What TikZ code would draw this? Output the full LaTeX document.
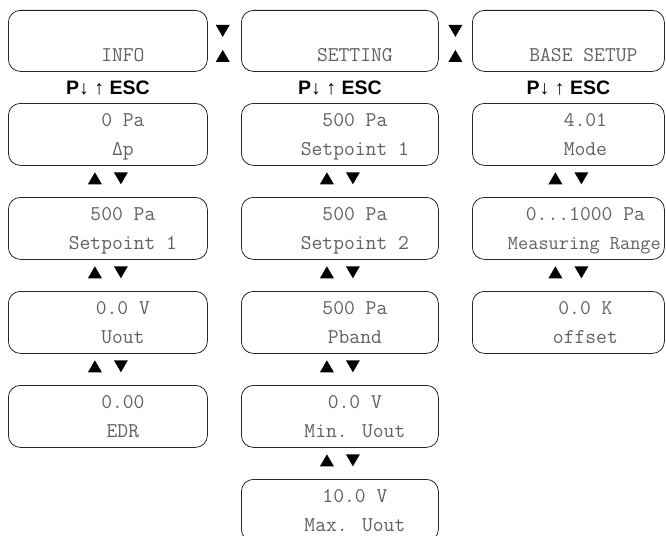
\documentclass[tikz,border=0pt]{standalone}
\usepackage{fontspec}
\usetikzlibrary{calc}
\newfontfamily\keyfont{Liberation Sans}
\tikzset{
  lcdbox/.style={draw=black!85, line width=0.8pt, rounded corners=12pt, inner sep=0pt, anchor=north west},
  lcdtext/.style={font=\ttfamily\fontsize{21}{23}\selectfont, text=black!62, anchor=base, inner sep=0pt},
  keytext/.style={font=\keyfont\fontsize{19.5}{21}\selectfont, anchor=center, inner sep=0pt},
}
\newcommand\trup[1]{\fill[black] (#1) ++(-7,6) -- ++(14,0) -- ++(-7,-12) -- cycle;}
\newcommand\trdn[1]{\fill[black] (#1) ++(-7,-6) -- ++(14,0) -- ++(-7,12) -- cycle;}
\begin{document}
\begin{tikzpicture}[x=1pt,y=-1pt]
\useasboundingbox (0,0) rectangle (666,535);
\clip (0,0) rectangle (666,535);
% top row
\node[lcdbox, minimum width=199pt, minimum height=61pt] (a0) at (8,10) {};
\node[lcdbox, minimum width=197pt, minimum height=61pt] (b0) at (241,10) {};
\node[lcdbox, minimum width=192pt, minimum height=61pt] (c0) at (472,10) {};
\node[lcdtext] (a0t) at ([xshift=15pt,yshift=-52pt]a0.north) {INFO};
\node[lcdtext] (b0t) at ([xshift=15pt,yshift=-52pt]b0.north) {SETTING};
\node[lcdtext] (c0t) at ([xshift=15pt,yshift=-52pt]c0.north) {BASE SETUP};
% arrows between top boxes
\coordinate (ab) at ($(a0.east)!0.45!(b0.west)$);
\coordinate (bc) at ($(b0.east)!0.5!(c0.west)$);
\coordinate (abd) at ([yshift=10pt]ab);
\coordinate (abu) at ([yshift=-15pt]ab);
\coordinate (bcd) at ([yshift=10pt]bc);
\coordinate (bcu) at ([yshift=-15pt]bc);
\trdn{abd}
\trup{abu}
\trdn{bcd}
\trup{bcu}
% key labels
\node[keytext] (ka) at ([yshift=-16pt]a0.south) {\bfseries P\mdseries↓ ↑ \bfseries ESC};
\node[keytext] (kb) at ([yshift=-16pt]b0.south) {\bfseries P\mdseries↓ ↑ \bfseries ESC};
\node[keytext] (kc) at ([yshift=-16pt]c0.south) {\bfseries P\mdseries↓ ↑ \bfseries ESC};
% column boxes
\foreach \n/\y in {1/103,2/197,3/291,4/385}{
  \node[lcdbox, minimum width=199pt, minimum height=62pt] (a\n) at (8,\y) {};
}
\foreach \n/\y in {1/103,2/197,3/291,4/385,5/479}{
  \node[lcdbox, minimum width=197pt, minimum height=62pt] (b\n) at (241,\y) {};
}
\foreach \n/\y in {1/103,2/197,3/291}{
  \node[lcdbox, minimum width=192pt, minimum height=62pt] (c\n) at (472,\y) {};
}
% texts column a
\node[lcdtext] (a1u) at ([xshift=15pt,yshift=-23.5pt]a1.north) {0 Pa};
\node[lcdtext] (a1l) at ([xshift=15pt,yshift=-52.5pt]a1.north) {Δp};
\node[lcdtext] (a2u) at ([xshift=15pt,yshift=-23.5pt]a2.north) {500 Pa};
\node[lcdtext] (a2l) at ([xshift=15pt,yshift=-52.5pt]a2.north) {Setpoint 1};
\node[lcdtext] (a3u) at ([xshift=15pt,yshift=-23.5pt]a3.north) {0.0 V};
\node[lcdtext] (a3l) at ([xshift=15pt,yshift=-52.5pt]a3.north) {Uout};
\node[lcdtext] (a4u) at ([xshift=15pt,yshift=-23.5pt]a4.north) {0.00};
\node[lcdtext] (a4l) at ([xshift=15pt,yshift=-52.5pt]a4.north) {EDR};
% texts column b
\node[lcdtext] (b1u) at ([xshift=15pt,yshift=-23.5pt]b1.north) {500 Pa};
\node[lcdtext] (b1l) at ([xshift=15pt,yshift=-52.5pt]b1.north) {Setpoint 1};
\node[lcdtext] (b2u) at ([xshift=15pt,yshift=-23.5pt]b2.north) {500 Pa};
\node[lcdtext] (b2l) at ([xshift=15pt,yshift=-52.5pt]b2.north) {Setpoint 2};
\node[lcdtext] (b3u) at ([xshift=15pt,yshift=-23.5pt]b3.north) {500 Pa};
\node[lcdtext] (b3l) at ([xshift=15pt,yshift=-52.5pt]b3.north) {Pband};
\node[lcdtext] (b4u) at ([xshift=15pt,yshift=-23.5pt]b4.north) {0.0 V};
\node[lcdtext] (b4l) at ([xshift=15pt,yshift=-52.5pt]b4.north) {Min. Uout};
\node[lcdtext] (b5u) at ([xshift=15pt,yshift=-23.5pt]b5.north) {10.0 V};
\node[lcdtext] (b5l) at ([xshift=15pt,yshift=-52.5pt]b5.north) {Max. Uout};
% texts column c
\node[lcdtext] (c1u) at ([xshift=17pt,yshift=-23.5pt]c1.north) {4.01};
\node[lcdtext] (c1l) at ([xshift=17pt,yshift=-52.5pt]c1.north) {Mode};
\node[lcdtext] (c2u) at ([xshift=17pt,yshift=-23.5pt]c2.north) {0...1000 Pa};
\node[lcdtext, font=\ttfamily\fontsize{19.8}{21}\selectfont] (c2l) at ([xshift=16pt,yshift=-52.5pt]c2.north) {Measuring Range};
\node[lcdtext] (c3u) at ([xshift=17pt,yshift=-23.5pt]c3.north) {0.0 K};
\node[lcdtext] (c3l) at ([xshift=17pt,yshift=-52.5pt]c3.north) {offset};
% up/down indicators between boxes
\foreach \p in {a1,a2,a3,b1,b2,b3,b4,c1,c2}{
  \coordinate (u\p) at ([xshift=-13pt,yshift=-12.5pt]\p.south);
  \coordinate (d\p) at ([xshift=13pt,yshift=-12.5pt]\p.south);
  \trup{u\p}
  \trdn{d\p}
}
\end{tikzpicture}
\end{document}
